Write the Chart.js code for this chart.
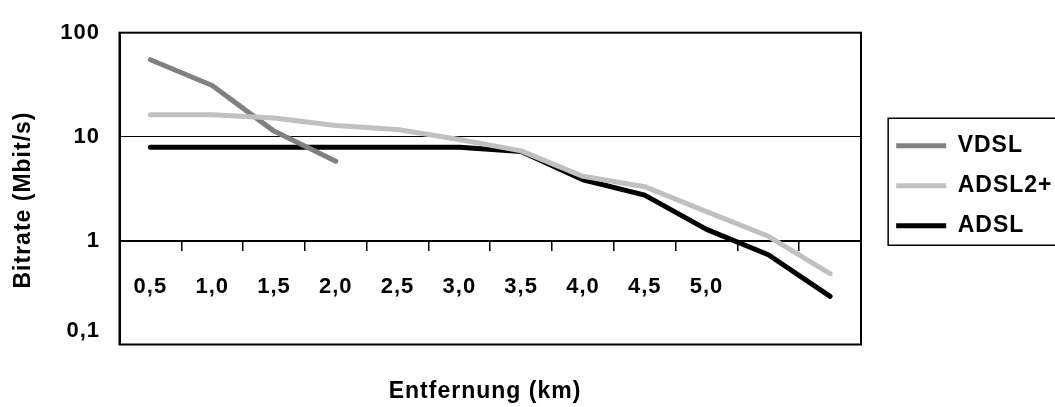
<!DOCTYPE html>
<html>
<head>
<meta charset="utf-8">
<script src="https://cdn.jsdelivr.net/npm/chart.js@4"></script>
<style>
  html, body { margin: 0; padding: 0; background: #fff; }
  #wrap { width: 1055px; height: 407px; position: relative; }
</style>
</head>
<body>
<div id="wrap"><canvas id="chart"></canvas></div>
<script>
const distances = ['0,5', '1,0', '1,5', '2,0', '2,5', '3,0', '3,5', '4,0', '4,5', '5,0', '', '']
const vdsl = [55, 31, 11.3, 5.8, null, null, null, null, null, null, null, null]
const adsl2plus = [16.2, 16.2, 15.1, 12.8, 11.7, 9.4, 7.3, 4.15, 3.3, 1.9, 1.1, 0.48]
const adsl = [7.9, 7.9, 7.9, 7.9, 7.9, 7.9, 7.2, 3.85, 2.74, 1.28, 0.73, 0.29]
const yTicks = [0.1, 1, 10, 100]
const yTickLabels = ['0,1', '1', '10', '100']

const FONT = 'Arial, "Liberation Sans", sans-serif'
Chart.defaults.font.family = FONT
Chart.defaults.color = '#000'

// Excel-ish wide text
const spacing = {
  id: 'spacing',
  beforeLayout(chart) { chart.ctx.letterSpacing = '1px' },
  beforeDraw(chart) { chart.ctx.letterSpacing = '1px' }
}

// plot frame, legend frame and the two axis titles
const frame = {
  id: 'frame',
  afterDraw(chart) {
    const ctx = chart.ctx
    const a = chart.chartArea
    ctx.save()
    ctx.strokeStyle = '#000'
    ctx.lineWidth = 2
    ctx.strokeRect(a.left, a.top, a.right - a.left, a.bottom - a.top)

    const lg = chart.legend
    const first = lg.legendHitBoxes[0]
    const last = lg.legendHitBoxes[lg.legendHitBoxes.length - 1]
    ctx.lineWidth = 1.5
    ctx.strokeRect(first.left - 8, first.top - 16, 300, last.top + last.height + 8 - (first.top - 16))

    ctx.fillStyle = '#000'
    ctx.font = 'bold 23px ' + FONT
    ctx.textAlign = 'center'
    ctx.textBaseline = 'middle'
    ctx.fillText('Entfernung (km)', 485, 392)
    ctx.translate(24, 200)
    ctx.rotate(-Math.PI / 2)
    ctx.fillText('Bitrate (Mbit/s)', 0, 0)
    ctx.restore()
  }
}

const line = (label, data, color, order) => ({
  label,
  data,
  order,
  borderColor: color,
  backgroundColor: color,
  borderWidth: 5,
  borderCapStyle: 'round',
  borderJoinStyle: 'round',
  pointRadius: 0,
  tension: 0,
  spanGaps: false
})

new Chart(document.getElementById('chart'), {
  type: 'line',
  data: {
    labels: distances,
    datasets: [
      line('VDSL', vdsl, '#808080', 1),
      line('ADSL2+', adsl2plus, '#c0c0c0', 0),
      line('ADSL', adsl, '#000000', 2)
    ]
  },
  options: {
    responsive: true,
    maintainAspectRatio: false,
    animation: false,
    layout: { padding: { top: 27, bottom: 62.5, left: 0, right: 0 } },
    plugins: {
      tooltip: { enabled: false },
      legend: {
        position: 'right',
        labels: {
          font: { size: 23, weight: 'bold', lineHeight: 1 },
          padding: 17,
          usePointStyle: true,
          pointStyle: 'line',
          pointStyleWidth: 50,
          sort: (a, b) => a.datasetIndex - b.datasetIndex
        }
      }
    },
    scales: {
      x: {
        type: 'category',
        position: { y: 1 },
        offset: true,
        grid: {
          offset: true,
          drawOnChartArea: false,
          drawTicks: true,
          tickLength: 9,
          color: '#000',
          lineWidth: 1.5
        },
        border: { display: true, color: '#000', width: 2 },
        ticks: {
          autoSkip: false,
          maxRotation: 0,
          padding: 24,
          font: { size: 22, weight: 'bold' }
        }
      },
      y: {
        type: 'logarithmic',
        position: 'left',
        min: 0.1,
        max: 100,
        afterBuildTicks: scale => { scale.ticks = yTicks.map(v => ({ value: v })) },
        afterFit: scale => { scale.width = 119.5 },
        grid: { color: '#000', lineWidth: 1, drawTicks: false },
        border: { display: true, color: '#000', width: 2 },
        ticks: {
          padding: 19.5,
          font: { size: 22, weight: 'bold' },
          callback: value => {
            const label = yTickLabels[yTicks.indexOf(value)]
            // Excel sets the lowest label a half line higher
            return value === 0.1 ? [label, ''] : label
          }
        }
      },
      gap: {
        type: 'linear',
        position: 'right',
        display: true,
        grid: { display: false },
        border: { display: false },
        ticks: { display: false },
        afterFit: scale => { scale.width = Math.max(0, 1055 - 861 - scale.chart.legend.width) }
      }
    }
  },
  plugins: [spacing, frame]
})
</script>
</body>
</html>
